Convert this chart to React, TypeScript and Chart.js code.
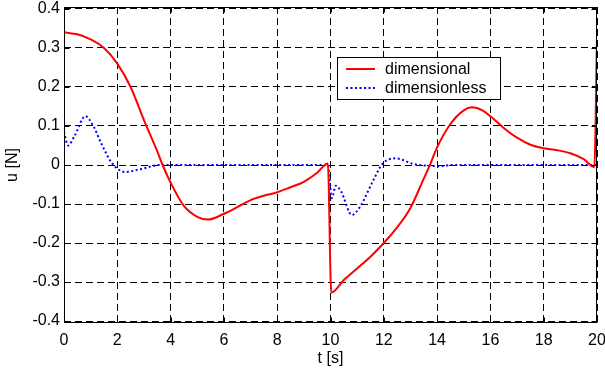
import React, { useEffect, useRef } from "react";
import { Chart, registerables } from "chart.js";

Chart.register(...registerables);

// ---- data ----
const seriesNames = ["dimensional", "dimensionless"];

const dimT = [0, 0.5, 1, 1.5, 2, 2.5, 3, 3.5, 3.7, 4, 4.5, 5, 5.4, 6, 6.5, 7, 7.5, 8, 8.5, 9, 9.5, 9.9,
  10.03, 10.5, 11, 11.5, 12, 12.5, 13, 13.5, 13.7, 14, 14.5, 15, 15.3, 15.7, 16, 16.5, 17, 17.5, 18, 18.5, 19, 19.5, 19.9, 20];
const dimU = [0.34, 0.335, 0.322, 0.3, 0.26, 0.2, 0.115, 0.035, 0.0, -0.045, -0.105, -0.133, -0.14, -0.125, -0.108, -0.09, -0.079, -0.07, -0.057, -0.043, -0.02, 0.004,
  -0.327, -0.295, -0.265, -0.235, -0.2, -0.16, -0.11, -0.035, -0.005, 0.045, 0.105, 0.14, 0.148, 0.14, 0.125, 0.095, 0.07, 0.052, 0.043, 0.038, 0.03, 0.015, -0.005, 0.33];

const dlT = [0, 0.15, 0.4, 0.8, 1.1, 1.4, 1.8, 2.3, 2.9, 3.6, 5, 7, 9, 9.9,
  10.05, 10.2, 10.4, 10.8, 11.1, 11.6, 11.95, 12.45, 13.1, 14.1, 14.6, 16, 18, 20];
const dlU = [0.085, 0.05, 0.075, 0.125, 0.1, 0.055, 0.005, -0.018, -0.01, 0.0, 0, 0, 0, 0,
  -0.085, -0.053, -0.068, -0.128, -0.108, -0.04, 0.003, 0.017, 0.003, -0.003, 0, 0, 0, 0];

const xTicks = [0, 2, 4, 6, 8, 10, 12, 14, 16, 18, 20];
const yTicks = [-0.4, -0.3, -0.2, -0.1, 0, 0.1, 0.2, 0.3, 0.4];
const yTickLabels = ["-0.4", "-0.3", "-0.2", "-0.1", "0", "0.1", "0.2", "0.3", "0.4"];

const FONT = "'Liberation Sans', Arial, Helvetica, sans-serif";

const framePlugin = {
  id: "frame",
  afterDatasetsDraw(chart: any) {
    const { ctx, chartArea: a, scales } = chart;
    ctx.save();
    ctx.strokeStyle = "#000";
    ctx.lineWidth = 1;
    ctx.setLineDash([]);
    const L = Math.round(a.left) + 0.5, R = Math.round(a.right) - 0.5;
    const T = Math.round(a.top) + 0.5, B = Math.round(a.bottom) - 0.5;
    ctx.strokeRect(L, T, R - L, B - T);
    const tl = 5;
    ctx.beginPath();
    for (const v of xTicks) {
      const x = Math.round(scales.x.getPixelForValue(v)) + 0.5;
      ctx.moveTo(x, B); ctx.lineTo(x, B - tl);
      ctx.moveTo(x, T); ctx.lineTo(x, T + tl);
    }
    for (const v of yTicks) {
      const y = Math.round(scales.y.getPixelForValue(v)) + 0.5;
      ctx.moveTo(L, y); ctx.lineTo(L + tl, y);
      ctx.moveTo(R, y); ctx.lineTo(R - tl, y);
    }
    ctx.stroke();
    ctx.restore();
  },
};

const legendPlugin = {
  id: "insideLegend",
  afterDraw(chart: any) {
    const { ctx } = chart;
    const ds = chart.data.datasets;
    ctx.save();
    const bx = 337.5, by = 57.5, bw = 163, bh = 42;
    ctx.fillStyle = "#fff";
    ctx.fillRect(bx, by, bw, bh);
    ctx.strokeStyle = "#000";
    ctx.lineWidth = 1;
    ctx.setLineDash([]);
    ctx.strokeRect(bx, by, bw, bh);
    const rows = [69, 88];
    ctx.font = `16px ${FONT}`;
    ctx.textBaseline = "middle";
    ctx.textAlign = "left";
    ds.forEach((d: any, i: number) => {
      const y = rows[i];
      ctx.beginPath();
      ctx.strokeStyle = d.borderColor;
      ctx.lineWidth = d.borderWidth;
      ctx.setLineDash(d.borderDash || []);
      ctx.moveTo(346, y);
      ctx.lineTo(375, y);
      ctx.stroke();
      ctx.setLineDash([]);
      ctx.fillStyle = "#000";
      ctx.fillText(d.label, 385, y + 1);
    });
    ctx.restore();
  },
};

export default function App() {
  const ref = useRef<HTMLCanvasElement>(null);
  useEffect(() => {
    if (!ref.current) return;
    const chart = new Chart(ref.current, {
      type: "line",
      data: {
        datasets: [
          {
            label: seriesNames[0],
            data: dimT.map((t, i) => ({ x: t, y: dimU[i] })),
            borderColor: "#ff0000",
            borderWidth: 2,
            pointRadius: 0,
            fill: false,
            cubicInterpolationMode: "monotone",
          },
          {
            label: seriesNames[1],
            data: dlT.map((t, i) => ({ x: t, y: dlU[i] })),
            borderColor: "#0000ff",
            borderWidth: 2,
            borderDash: [2, 2.5],
            pointRadius: 0,
            fill: false,
            cubicInterpolationMode: "monotone",
          },
        ],
      },
      options: {
        animation: false,
        responsive: false,
        maintainAspectRatio: false,
        layout: { padding: { left: 0, top: 7, right: 8, bottom: 0 } },
        plugins: { legend: { display: false }, tooltip: { enabled: false } },
        scales: {
          x: {
            type: "linear",
            min: 0,
            max: 20,
            afterBuildTicks: (s: any) => { s.ticks = xTicks.map((v) => ({ value: v })); },
            afterFit: (s: any) => { s.height = 47; s.paddingLeft = 0; s.paddingRight = 0; },
            grid: { color: "#000", lineWidth: 1, drawTicks: false },
            border: { display: false, dash: [7, 4] },
            ticks: {
              color: "#000",
              font: { family: FONT, size: 16 },
              padding: 8,
              maxRotation: 0,
              autoSkip: false,
              callback: (v: any) => String(v),
            },
            title: {
              display: true,
              text: "t [s]",
              color: "#000",
              font: { family: FONT, size: 16 },
              padding: { top: 0, bottom: 2 },
            },
          },
          y: {
            type: "linear",
            min: -0.405,
            max: 0.405,
            afterBuildTicks: (s: any) => { s.ticks = yTicks.map((v) => ({ value: v })); },
            afterFit: (s: any) => { s.width = 64; s.paddingTop = 0; s.paddingBottom = 0; },
            grid: { color: "#000", lineWidth: 1, drawTicks: false },
            border: { display: false, dash: [7, 4] },
            ticks: {
              color: "#000",
              font: { family: FONT, size: 16 },
              padding: 4,
              autoSkip: false,
              callback: (v: any) => {
                const i = yTicks.findIndex((t) => Math.abs(t - v) < 1e-9);
                return i >= 0 ? yTickLabels[i] : "";
              },
            },
            title: {
              display: true,
              text: "u [N]",
              color: "#000",
              font: { family: FONT, size: 16 },
              padding: { top: 3, bottom: 0 },
            },
          },
        },
      },
      plugins: [framePlugin, legendPlugin],
    } as any);
    return () => chart.destroy();
  }, []);
  return (
    <div style={{ position: "absolute", left: 0, top: 0, width: 605, height: 370, background: "#fff" }}>
      <canvas ref={ref} width={605} height={370} style={{ display: "block" }} />
    </div>
  );
}
